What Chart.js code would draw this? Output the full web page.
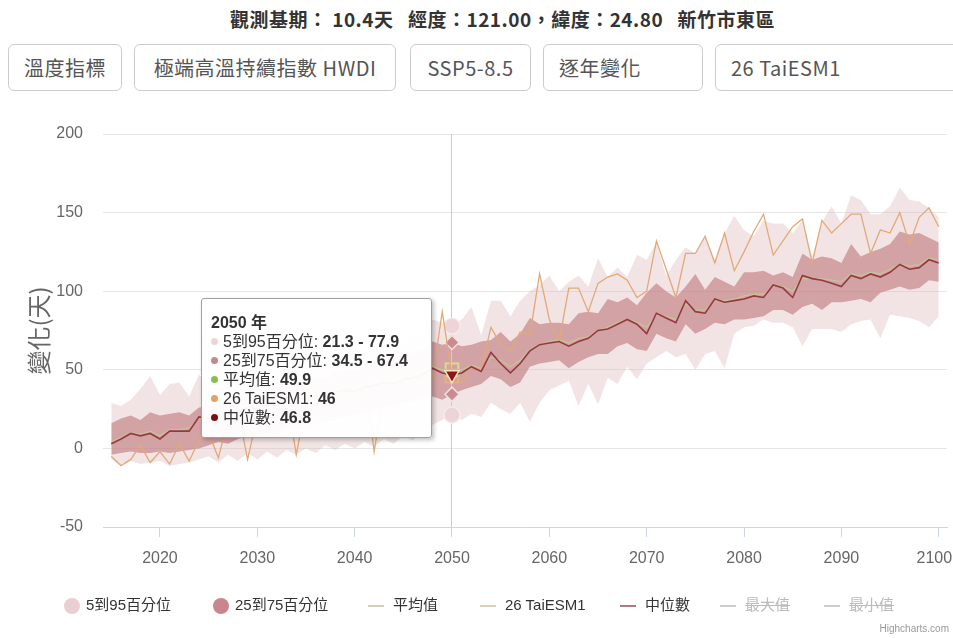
<!DOCTYPE html>
<html>
<head>
<meta charset="utf-8">
<script src="https://cdn.jsdelivr.net/npm/chart.js@4.4.0/dist/chart.umd.min.js"></script>
<style>
  body { margin: 0; background: #fff; width: 953px; height: 638px; overflow: hidden; position: relative;
         font-family: "Noto Sans CJK TC", "Liberation Sans", sans-serif; }
  #chart { position: absolute; left: 0; top: 0; }
  #title { position: absolute; left: 26px; top: 5px; width: 953px; text-align: center; font-size: 19px;
           font-weight: bold; color: #333; white-space: pre; letter-spacing: 0.5px;
           font-family: "Liberation Sans Narrow", "Noto Sans CJK TC", sans-serif; }
  .btn { position: absolute; top: 44px; height: 47px; box-sizing: border-box; border: 1px solid #ccc;
         border-radius: 6px; font-size: 20px; color: #555; line-height: 45px;
         white-space: nowrap; overflow: hidden; background: #fff; letter-spacing: 0.5px;
         font-family: "Liberation Sans Narrow", "Noto Sans CJK TC", sans-serif; }
  .btn.c { text-align: center; }
  .btn.l { padding-left: 15px; }
  #tip { position: absolute; left: 201px; top: 298px; width: 231px; height: 140px; box-sizing: border-box;
         background: rgba(255,255,255,0.96); border: 1px solid #a0a0a0; border-radius: 3px;
         box-shadow: 2px 2px 4px rgba(0,0,0,0.25); padding: 14px 0 0 9px;
         font-family: "Liberation Sans", "Noto Sans CJK TC", sans-serif; font-size: 16px; color: #333; z-index: 3; }
  #tip div { line-height: 19px; height: 19px; white-space: nowrap; }
  #tip .dot { display: inline-block; width: 7px; height: 7px; border-radius: 50%; margin-right: 5px; vertical-align: 2px; }
  #legend { position: absolute; left: 0; top: 594px; width: 953px; height: 22px; }
  .li { position: absolute; top: 0; font-family: "Liberation Sans", "Noto Sans CJK TC", sans-serif;
        font-size: 15px; color: #333; line-height: 22px; white-space: nowrap; }
  .li .sym { display: inline-block; vertical-align: middle; margin-right: 6px; }
  .li.off { color: #bbb; text-decoration: line-through; }
  #credit { position: absolute; right: 4px; top: 623px; font-family: "Liberation Sans", sans-serif;
            font-size: 10px; color: #999; }
</style>
</head>
<body>
<div id="title">觀測基期： 10.4天   經度：121.00，緯度：24.80   新竹市東區</div>
<div class="btn c" style="left:8px;width:114px">溫度指標</div>
<div class="btn c" style="left:134px;width:262px">極端高溫持續指數 HWDI</div>
<div class="btn c" style="left:410px;width:121px">SSP5-8.5</div>
<div class="btn l" style="left:543px;width:160px">逐年變化</div>
<div class="btn l" style="left:715px;width:250px">26 TaiESM1</div>
<canvas id="chart" width="953" height="638"></canvas>
<div id="tip"></div>
<div id="legend"></div>
<div id="credit">Highcharts.com</div>
<script>
// years on the x axis
const years = [2015, 2016, 2017, 2018, 2019, 2020, 2021, 2022, 2023, 2024,
               2025, 2026, 2027, 2028, 2029, 2030, 2031, 2032, 2033, 2034,
               2035, 2036, 2037, 2038, 2039, 2040, 2041, 2042, 2043, 2044,
               2045, 2046, 2047, 2048, 2049, 2050, 2051, 2052, 2053, 2054,
               2055, 2056, 2057, 2058, 2059, 2060, 2061, 2062, 2063, 2064,
               2065, 2066, 2067, 2068, 2069, 2070, 2071, 2072, 2073, 2074,
               2075, 2076, 2077, 2078, 2079, 2080, 2081, 2082, 2083, 2084,
               2085, 2086, 2087, 2088, 2089, 2090, 2091, 2092, 2093, 2094,
               2095, 2096, 2097, 2098, 2099, 2100];
const tickYears = [2020, 2030, 2040, 2050, 2060, 2070, 2080, 2090, 2100];
const yTicks = [-50, 0, 50, 100, 150, 200];

// 5 to 95 percentile
const p95 = [29, 27, 31, 38, 46, 34, 41, 42, 33, 47,
             40, 48, 42, 50, 46, 52, 48, 55, 50, 57,
             54, 60, 56, 63, 58, 65, 61, 68, 64, 70,
             66, 74, 70, 82, 80, 77.9, 82, 90, 72, 94,
             94, 84, 94, 100, 104, 110, 100, 106, 110, 103,
             121, 109, 115, 109, 123, 120, 131, 110, 120, 128,
             124, 135, 120, 137, 148, 139, 135, 145, 143, 143,
             137, 145, 122, 144, 154, 143, 161, 158, 149, 149,
             154, 166, 158, 157, 153, 147];
const p5 = [-7, -11, -8, -10, -9, -8, -11, -10, -9, -7,
            -5, -9, -4, -8, -3, -7, -2, -6, -1, -4,
            0, -3, 2, -1, 3, 0, 4, 1, 6, 3,
            8, 5, 12, 15, 18, 21.3, 18, 22, 20, 29,
            25, 22, 29, 17, 29, 37, 40, 43, 27, 41,
            28, 45, 41, 52, 44, 54, 58, 62, 58, 60,
            50, 60, 62, 51, 73, 77, 78, 82, 80, 80,
            77, 65, 76, 76, 76, 74, 79, 81, 82, 70,
            85, 84, 83, 81, 77, 84];
// 25 to 75 percentile
const p75 = [16, 19, 21, 18, 23, 21, 22, 23, 21, 26,
             27, 29, 28, 32, 34, 33, 37, 36, 40, 42,
             41, 45, 44, 48, 49, 50, 52, 54, 56, 57,
             59, 61, 63, 68, 66, 67.4, 65, 66, 68, 69,
             74, 68, 73, 83, 79, 80, 80, 79, 86, 87,
             86, 95, 93, 96, 91, 99, 105, 100, 96, 103,
             111, 101, 109, 106, 103, 112, 112, 113, 110, 112,
             109, 124, 120, 122, 121, 118, 130, 122, 125, 127,
             130, 138, 136, 137, 134, 131];
const p25 = [-4, -3, -2, -3, -3, -2, -3, -2, -1, 0,
             2, 4, 3, 6, 8, 7, 10, 9, 12, 14,
             13, 16, 17, 19, 20, 21, 23, 24, 26, 27,
             29, 30, 32, 33, 31, 34.5, 37, 39, 41, 46,
             44, 39, 42, 52, 54, 55, 56, 51, 55, 58,
             60, 60, 65, 67, 63, 62, 73, 70, 68, 79,
             73, 76, 80, 79, 82, 82, 83, 84, 88, 88,
             85, 90, 92, 88, 93, 93, 94, 95, 93, 99,
             101, 103, 101, 102, 107, 106];
const meanVals = [4, 7, 10, 9, 11, 8, 12, 12, 13, 19,
                  21, 23, 23, 25, 27, 27, 29, 29, 31, 33,
                  33, 35, 35, 37, 39, 38, 41, 42, 43, 44,
                  46, 47, 49, 52, 50, 49.9, 50, 53, 51, 58,
                  56, 52, 56, 63, 66, 68, 69, 67, 70, 71,
                  75, 77, 80, 82, 80, 77, 85, 84, 82, 92,
                  88, 88, 94, 94, 95, 97, 98, 98, 103, 103,
                  100, 108, 108, 108, 107, 106, 111, 110, 112, 111,
                  114, 117, 116, 117, 121, 120];
const taiVals = [-5, -11, -7, 2, -9, -2, -10, 3, -8, 5,
                 10, -6, 18, 25, -7, 20, 30, 15, 35, -4,
                 28, 40, 22, 45, 30, 38, 50, -2, 35, 52,
                 40, 48, 55, 45, 87, 46, 42, 52, 50, 77,
                 66, 62, 74, 72, 111, 82, 68, 102, 102, 87,
                 105, 109, 111, 107, 96, 100, 132, 114, 96, 124,
                 124, 135, 118, 137, 113, 125, 138, 149, 123, 132,
                 141, 146, 118, 145, 137, 143, 149, 149, 124, 139,
                 137, 150, 130, 147, 153, 141];
const medianVals = [3, 6, 9.5, 8, 9.5, 6, 11, 11, 11, 20,
                    19, 22, 21, 24, 26, 25, 28, 27, 30, 32,
                    31, 34, 33, 36, 37, 36, 39, 40, 42, 41,
                    44, 45, 47, 51, 48, 46.8, 48, 52, 49, 61,
                    54, 48, 54, 62, 66, 67, 68, 65, 68, 70,
                    75, 76, 79, 82, 79, 73, 86, 83, 80, 94,
                    87, 86, 95, 93, 94, 95, 97, 96, 104, 102,
                    96, 110, 108, 107, 105, 103, 110, 108, 111, 109,
                    112, 117, 114, 115, 120, 118];

const hoverYear = 2050;

const lightBand = 'rgba(224,190,194,0.42)';
const darkBand = 'rgba(192,118,124,0.6)';

function pts(vals) {
    return years.map((yr, i) => ({ x: yr, y: vals[i] }));
}
function markerSize(r) {
    return ctx => (ctx.raw && ctx.raw.x === hoverYear ? r : 0);
}

const crosshair = {
    id: 'crosshair',
    beforeDatasetsDraw(chart) {
        const { ctx, chartArea, scales } = chart;
        const x = Math.round(scales.x.getPixelForValue(hoverYear)) - 0.5;
        ctx.save();
        ctx.strokeStyle = '#cccccc';
        ctx.lineWidth = 1;
        ctx.beginPath();
        ctx.moveTo(x, chartArea.top);
        ctx.lineTo(x, chartArea.bottom);
        ctx.stroke();
        ctx.restore();
    }
};

const bandLine = {
    borderWidth: 0,
    borderColor: 'rgba(0,0,0,0)',
    tension: 0
};

const chart = new Chart(document.getElementById('chart'), {
    type: 'line',
    data: {
        datasets: [
            Object.assign({ label: '5到95百分位', data: pts(p95), fill: '+1', backgroundColor: lightBand,
                pointStyle: 'circle', pointRadius: markerSize(8), pointBackgroundColor: '#ecd4d7',
                pointBorderColor: '#f6eaeb', pointBorderWidth: 1.5, order: 4 }, bandLine),
            Object.assign({ label: '5到95百分位 low', data: pts(p5), fill: false,
                pointStyle: 'circle', pointRadius: markerSize(8), pointBackgroundColor: '#ecd4d7',
                pointBorderColor: '#f6eaeb', pointBorderWidth: 1.5, order: 4 }, bandLine),
            Object.assign({ label: '25到75百分位', data: pts(p75), fill: '+1', backgroundColor: darkBand,
                pointStyle: 'rectRot', pointRadius: markerSize(7), pointBackgroundColor: '#c98a92',
                pointBorderColor: '#f3dfe0', pointBorderWidth: 1.5, order: 3 }, bandLine),
            Object.assign({ label: '25到75百分位 low', data: pts(p25), fill: false,
                pointStyle: 'rectRot', pointRadius: markerSize(7), pointBackgroundColor: '#c98a92',
                pointBorderColor: '#f3dfe0', pointBorderWidth: 1.5, order: 3 }, bandLine),
            { label: '平均值', data: pts(meanVals), borderColor: '#c2c795', borderWidth: 1.2, tension: 0,
              fill: false, pointStyle: 'rect', pointRadius: markerSize(9), pointBackgroundColor: 'rgba(0,0,0,0)',
              pointBorderColor: '#d9dc8c', pointBorderWidth: 2, order: 2 },
            { label: '26 TaiESM1', data: pts(taiVals), borderColor: '#e2a978', borderWidth: 1.3, tension: 0,
              fill: false, pointStyle: 'rect', pointRadius: markerSize(9), pointBackgroundColor: 'rgba(0,0,0,0)',
              pointBorderColor: '#e6b27c', pointBorderWidth: 2, order: 1 },
            { label: '中位數', data: pts(medianVals), borderColor: '#963a40', borderWidth: 1.6, tension: 0,
              fill: false, pointStyle: 'triangle', rotation: 180, pointRadius: markerSize(8),
              pointBackgroundColor: '#8e1616', pointBorderColor: '#f2e6c8', pointBorderWidth: 1.5, order: 0 }
        ]
    },
    options: {
        responsive: false,
        animation: false,
        events: [],
        layout: { padding: { left: 0, right: 6, top: 134, bottom: 71 } },
        plugins: {
            legend: { display: false },
            tooltip: { enabled: false },
            filler: { drawTime: 'beforeDatasetsDraw' }
        },
        scales: {
            x: {
                type: 'linear',
                min: 2014.15,
                max: 2100.85,
                afterBuildTicks: scale => { scale.ticks = tickYears.map(v => ({ value: v })); },
                afterFit: scale => { scale.height = 40; scale.paddingLeft = 0; scale.paddingRight = 0; },
                grid: { drawOnChartArea: false, drawTicks: true, tickLength: 10, color: '#ccd6eb' },
                border: { display: true, color: '#ccd6eb' },
                ticks: { padding: 12, color: '#666', font: { family: 'Liberation Sans', size: 16 },
                         // last label is pushed inside the chart edge, like the original
                         callback: v => (v === tickYears[tickYears.length - 1] ? v + '  ' : String(v)) }
            },
            y: {
                min: -50,
                max: 200,
                afterBuildTicks: scale => { scale.ticks = yTicks.map(v => ({ value: v })); },
                afterFit: scale => { scale.width = 103; scale.paddingTop = 0; scale.paddingBottom = 0; },
                grid: { color: '#e6e6e6', drawTicks: false },
                border: { display: false },
                ticks: { padding: 20, color: '#666', font: { family: 'Liberation Sans', size: 16 } },
                title: { display: true, text: '變化(天)', color: '#666',
                         font: { family: 'Noto Sans CJK TC', size: 24 }, padding: { top: 24, bottom: 0 } }
            }
        }
    },
    plugins: [crosshair]
});

// tooltip box for the highlighted year
const hi = years.indexOf(hoverYear);
const tipRows = [
    ['#f0d4d8', '5到95百分位', p5[hi] + ' - ' + p95[hi]],
    ['#c48890', '25到75百分位', p25[hi] + ' - ' + p75[hi]],
    ['#8bbd4e', '平均值', meanVals[hi]],
    ['#e0a468', '26 TaiESM1', taiVals[hi]],
    ['#7a1010', '中位數', medianVals[hi]]
];
let tipHtml = '<div style="font-weight:bold">' + hoverYear + ' 年</div>';
tipRows.forEach(r => {
    tipHtml += '<div><span class="dot" style="background:' + r[0] + '"></span>' + r[1] + ': <b>' + r[2] + '</b></div>';
});
document.getElementById('tip').innerHTML = tipHtml;

// legend
const legendItems = [
    { name: '5到95百分位', sym: 'circle', color: '#e9cfd2', left: 64 },
    { name: '25到75百分位', sym: 'circle', color: '#c9878d', left: 213 },
    { name: '平均值', sym: 'line', color: '#d3d1b4', left: 368 },
    { name: '26 TaiESM1', sym: 'line', color: '#ddd2b6', left: 480 },
    { name: '中位數', sym: 'line', color: '#b47880', left: 620 },
    { name: '最大值', sym: 'line', color: '#cccccc', left: 720, off: true },
    { name: '最小值', sym: 'line', color: '#cccccc', left: 824, off: true }
];
const legend = document.getElementById('legend');
legendItems.forEach(it => {
    const el = document.createElement('div');
    el.className = 'li' + (it.off ? ' off' : '');
    el.style.left = it.left + 'px';
    const sym = it.sym === 'circle'
        ? '<span class="sym" style="width:16px;height:16px;border-radius:50%;background:' + it.color + '"></span>'
        : '<span class="sym" style="width:16px;height:2px;background:' + it.color + ';margin-right:9px"></span>';
    el.innerHTML = sym + it.name;
    legend.appendChild(el);
});
</script>
</body>
</html>
